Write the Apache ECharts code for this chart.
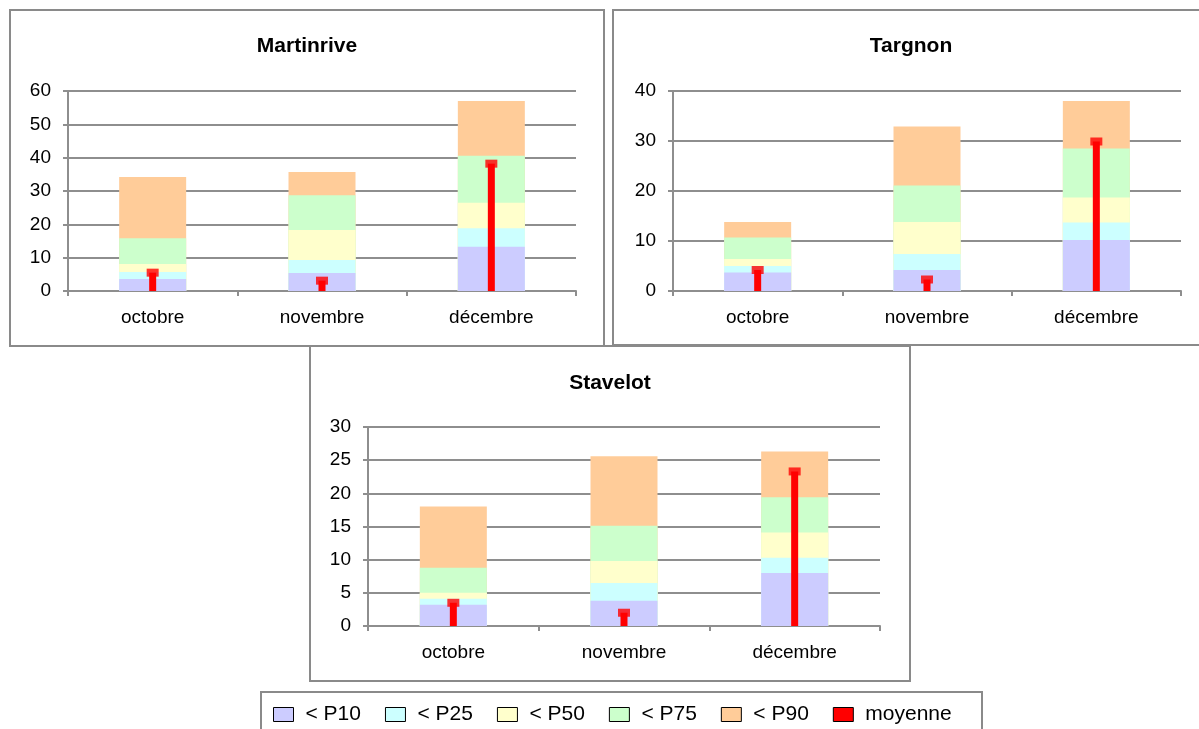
<!DOCTYPE html>
<html><head><meta charset="utf-8">
<script src="https://cdn.jsdelivr.net/npm/echarts@6/dist/echarts.min.js"></script>
<style>html,body{margin:0;padding:0;background:#fff}#c{width:1199px;height:729px}</style>
</head><body><div id="c"></div>
<script>
const categories = ['octobre', 'novembre', 'décembre'];
const stations = ['Martinrive', 'Targnon', 'Stavelot'];
const yMax = [60, 40, 30];
const yStep = [10, 10, 5];
// cumulative percentile values per station (octobre, novembre, décembre)
const p10 = [[3.6, 5.4, 13.3], [3.7, 4.2, 10.2], [3.2, 3.8, 8.0]];
const p25 = [[5.7, 9.3, 18.8], [5.0, 7.4, 13.7], [4.1, 6.5, 10.3]];
const p50 = [[8.1, 18.3, 26.5], [6.4, 13.8, 18.7], [5.0, 9.8, 14.1]];
const p75 = [[15.8, 28.7, 40.6], [10.7, 21.1, 28.5], [8.8, 15.1, 19.4]];
const p90 = [[34.2, 35.7, 57.0], [13.8, 32.9, 38.0], [18.0, 25.6, 26.3]];
const moyenne = [[5.5, 3.1, 38.2], [4.2, 2.3, 29.9], [3.5, 2.0, 23.3]];
const legendNames = ['< P10', '< P25', '< P50', '< P75', '< P90', 'moyenne'];

const colors = {'< P10': '#CCCCFF', '< P25': '#CCFFFF', '< P50': '#FFFFCC', '< P75': '#CCFFCC', '< P90': '#FFCC99', 'moyenne': '#FF0000'};
const FONT = '"Liberation Sans", Arial, sans-serif';
const gridCol = '#8e8e8e';

const grids = [
  {left: 68, top: 91, width: 508, height: 200},
  {left: 673, top: 91, width: 508, height: 200},
  {left: 368, top: 427, width: 512, height: 199}
];
const titlePos = [{x: 307, y: 36}, {x: 911, y: 36}, {x: 610, y: 373}];
const boxes = [
  {x: 10, y: 10, width: 594, height: 336},
  {x: 613, y: 10, width: 600, height: 335},
  {x: 310, y: 346, width: 600, height: 335},
  {x: 261, y: 692, width: 721, height: 60}
];

const xAxis = [], yAxis = [], series = [], title = [];
for (let i = 0; i < 3; i++) {
  title.push({text: stations[i], left: titlePos[i].x, top: titlePos[i].y, textAlign: 'center', padding: 0,
    textStyle: {fontFamily: FONT, fontSize: 21, fontWeight: 'bold', color: '#000'}});
  xAxis.push({type: 'category', gridIndex: i, data: categories,
    axisLine: {lineStyle: {color: gridCol, width: 2}},
    axisTick: {show: true, length: 5, lineStyle: {color: gridCol, width: 2}},
    axisLabel: {fontFamily: FONT, fontSize: 19, color: '#000', margin: 17}});
  xAxis.push({type: 'category', gridIndex: i, data: categories, show: false});
  yAxis.push({type: 'value', gridIndex: i, min: 0, max: yMax[i], interval: yStep[i],
    axisLine: {show: true, lineStyle: {color: gridCol, width: 2}},
    axisTick: {show: true, length: 5, lineStyle: {color: gridCol, width: 2}},
    splitLine: {lineStyle: {color: gridCol, width: 2}},
    axisLabel: {fontFamily: FONT, fontSize: 19, color: '#000', margin: 17}});
  const pct = [['< P90', p90], ['< P75', p75], ['< P50', p50], ['< P25', p25], ['< P10', p10]];
  pct.forEach(([name, arr]) => {
    series.push({type: 'bar', name: name, xAxisIndex: 2 * i, yAxisIndex: i, data: arr[i],
      barWidth: 67, barGap: '-100%', itemStyle: {color: colors[name]}, silent: true});
  });
  series.push({type: 'bar', name: 'moyenne', xAxisIndex: 2 * i + 1, yAxisIndex: i, data: moyenne[i],
    barWidth: 7, itemStyle: {color: colors['moyenne']}, silent: true});
  series.push({type: 'scatter', name: 'moyenne', xAxisIndex: 2 * i + 1, yAxisIndex: i, data: moyenne[i],
    symbol: 'rect', symbolSize: [12, 8], itemStyle: {color: colors['moyenne']}, silent: true});
}

const graphic = boxes.map(b => ({type: 'rect', shape: b, silent: true, z: -1,
  style: {fill: 'none', stroke: '#8a8a8a', lineWidth: 2}}));

const option = {
  animation: false,
  backgroundColor: '#fff',
  title: title,
  grid: grids,
  xAxis: xAxis,
  yAxis: yAxis,
  series: series,
  graphic: graphic,
  legend: {
    data: legendNames.map(n => ({name: n, icon: 'rect'})),
    left: 273, top: 704, padding: 0, itemWidth: 20, itemHeight: 14, itemGap: 24,
    itemStyle: {borderColor: '#000', borderWidth: 1},
    textStyle: {fontFamily: FONT, fontSize: 21, color: '#000', padding: [0, 0, 0, 7]},
    selectedMode: false
  }
};
const chart = echarts.init(document.getElementById('c'), null, {renderer: 'canvas'});
chart.setOption(option);
</script></body></html>
